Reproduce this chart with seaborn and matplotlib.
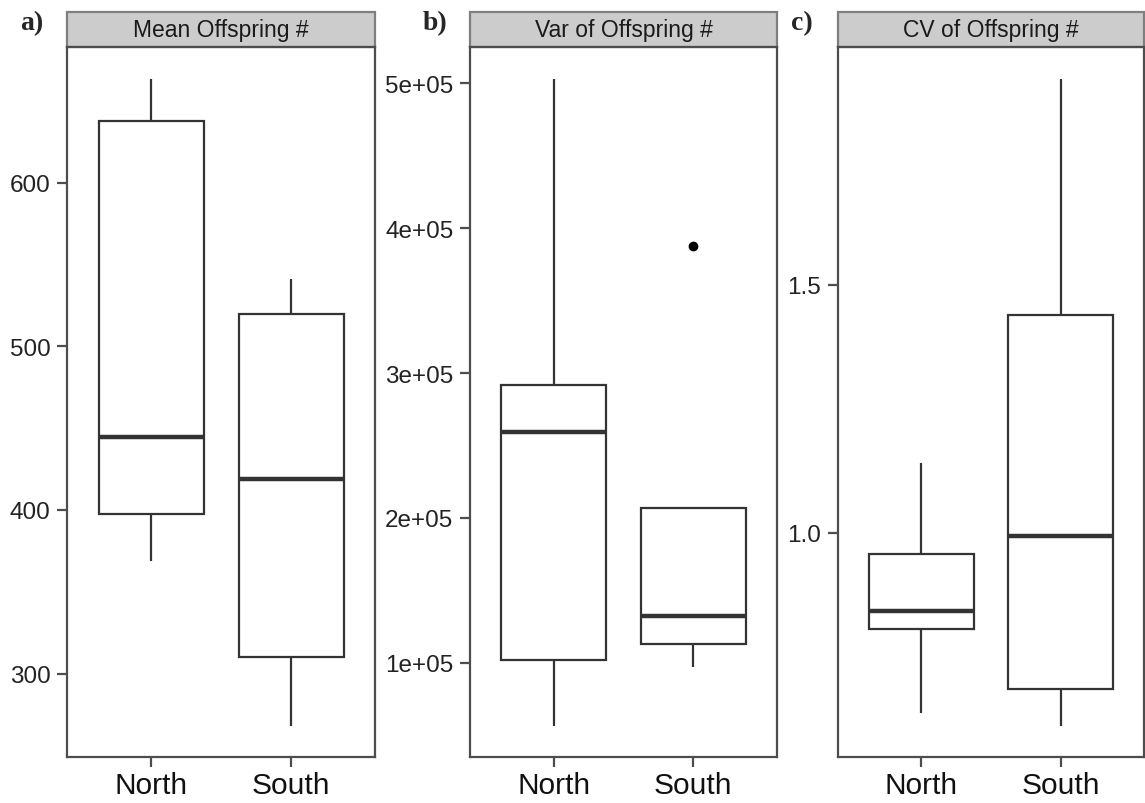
import matplotlib
matplotlib.use("Agg")
import matplotlib.pyplot as plt
from matplotlib.patches import Rectangle
import seaborn as sns
import pandas as pd

# Per-population values for each region (five populations per region)
regions = ["North", "South"]
mean_north = [368.8, 397.6, 444.6, 637.9, 663.6]
mean_south = [268.2, 310.0, 419.0, 519.9, 541.3]
var_north = [0.565e5, 1.02e5, 2.59e5, 2.92e5, 5.03e5]
var_south = [0.97e5, 1.13e5, 1.32e5, 2.07e5, 3.88e5]
cv_north = [0.637, 0.806, 0.843, 0.958, 1.141]
cv_south = [0.611, 0.686, 0.994, 1.440, 1.915]

panel_titles = ["Mean Offspring #", "Var of Offspring #", "CV of Offspring #"]
panel_tags = ["a)", "b)", "c)"]

mean_ticks = [300, 400, 500, 600]
mean_ticklabels = ["300", "400", "500", "600"]
var_ticks = [1e5, 2e5, 3e5, 4e5, 5e5]
var_ticklabels = ["1e+05", "2e+05", "3e+05", "4e+05", "5e+05"]
cv_ticks = [1.0, 1.5]
cv_ticklabels = ["1.0", "1.5"]

panels = [
    (mean_north, mean_south, mean_ticks, mean_ticklabels, (249, 683)),
    (var_north, var_south, var_ticks, var_ticklabels, (0.35e5, 5.25e5)),
    (cv_north, cv_south, cv_ticks, cv_ticklabels, (0.548, 1.98)),
]

sns.set_theme(style="white")
plt.rcParams["font.family"] = ["Liberation Sans", "DejaVu Sans"]

W, H = 1145, 804
fig = plt.figure(figsize=(W / 100, H / 100), dpi=100)

edge = "#333333"
frame = "#4d4d4d"
axes_px = [(67, 375), (470, 777), (838, 1144)]
top_px, bottom_px = 48, 758
strip_h = 35

for (x0, x1), (north, south, ticks, ticklabels, ylim), title, tag in zip(
        axes_px, panels, panel_titles, panel_tags):
    ax = fig.add_axes([x0 / W, (H - bottom_px) / H, (x1 - x0) / W,
                       (bottom_px - top_px) / H])
    df = pd.DataFrame({
        "region": [regions[0]] * len(north) + [regions[1]] * len(south),
        "value": north + south,
    })
    sns.boxplot(
        data=df, x="region", y="value", order=regions, ax=ax,
        width=0.75, color="white", linecolor=edge, linewidth=1.6,
        showcaps=False, whis=1.5,
        medianprops=dict(linewidth=3.2, color=edge),
        flierprops=dict(marker="o", markerfacecolor="black",
                        markeredgecolor="black", markersize=6),
    )
    ax.set_xlim(-0.6, 1.6)
    ax.set_ylim(*ylim)
    ax.set_yticks(ticks)
    ax.set_yticklabels(ticklabels)
    ax.set_xlabel("")
    ax.set_ylabel("")
    for s in ax.spines.values():
        s.set_visible(True)
        s.set_color(frame)
        s.set_linewidth(1.6)
    ax.tick_params(axis="both", which="major", direction="out", length=7,
                   width=1.6, color=frame, left=True, bottom=True)
    ax.tick_params(axis="y", labelsize=17.5, labelcolor="#222222", pad=5)
    ax.tick_params(axis="x", labelsize=21.5, labelcolor="#111111", pad=3)

    # grey strip with panel title
    sh = strip_h / (bottom_px - top_px)
    ax.add_patch(Rectangle((0, 1), 1, sh, transform=ax.transAxes,
                           facecolor="#cccccc", edgecolor="#7f7f7f",
                           linewidth=1.6, clip_on=False))
    ax.text(0.5, 1 + sh / 2, title, transform=ax.transAxes, ha="center",
            va="center", fontsize=16.5, color="#1a1a1a")

    # panel tag
    fig.text((x0 - 47) / W, (H - 24) / H, tag, ha="left", va="center",
             fontsize=20, fontweight="bold",
             family=["Liberation Serif", "DejaVu Serif"])

fig.savefig("out.png", dpi=100, facecolor="white")
